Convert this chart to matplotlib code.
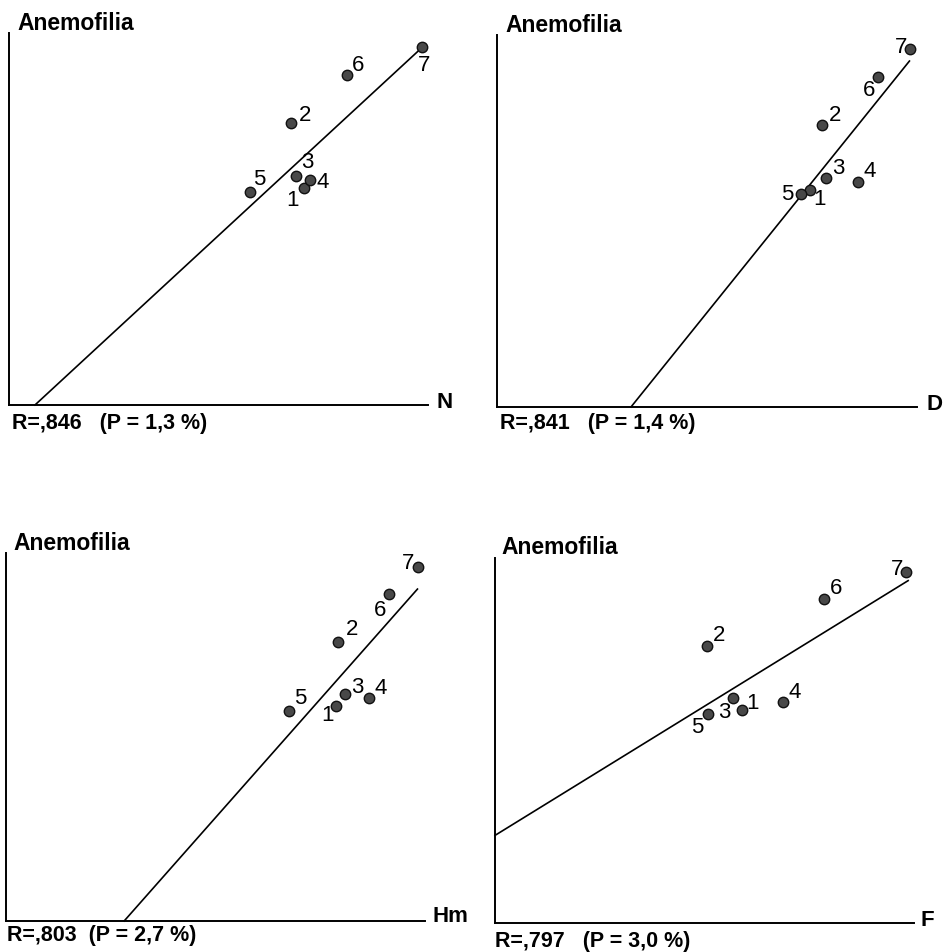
import numpy as np
import matplotlib
matplotlib.use('Agg')
import matplotlib.pyplot as plt

# site numbers and Anemofilia values (same y variable in all four plots, 0-100 scale)
sites = ['1', '2', '3', '4', '5', '6', '7']
anemofilia = [58.4, 75.9, 61.6, 60.5, 57.2, 88.8, 96.2]

# x variables, 0-100 scale
x_N = [70.4, 67.3, 68.5, 71.8, 57.5, 80.6, 98.5]
x_D = [74.5, 77.4, 78.3, 86.0, 72.4, 90.7, 98.4]
x_Hm = [78.8, 79.3, 80.9, 86.7, 67.6, 91.3, 98.4]
x_F = [59.0, 50.7, 56.9, 68.8, 50.9, 78.5, 98.2]

# regression lines (end points)
line_N = ([6.2, 97.9], [0.0, 95.4])
line_D = ([31.9, 98.2], [0.0, 93.0])
line_Hm = ([28.2, 98.2], [0.0, 90.2])
line_F = ([0.0, 98.6], [24.0, 93.8])

r_texts = ['R=,846   (P = 1,3 %)', 'R=,841   (P = 1,4 %)',
           'R=,803  (P = 2,7 %)', 'R=,797   (P = 3,0 %)']
x_names = ['N', 'D', 'Hm', 'F']

W, H = 944, 952
font = 'Liberation Sans'

fig = plt.figure(figsize=(W / 100, H / 100), dpi=100)

def fx(x):
    return x / W

def fy(y):
    return 1 - y / H

# panel frames in pixels: left, right, bottom, top
frames = [(9, 428, 405, 33), (497, 917, 407, 35),
          (6, 425, 921, 553), (495, 914, 923, 558)]
title_pos = [(17, 23), (505, 26), (13, 544), (501, 548)]
name_pos = [(437, 403), (926, 404), (432, 917), (920, 920)]
r_pos = [(12, 423), (500, 423), (7, 936), (495, 941)]

label_off = [
    [(-11, -13), (14, 7), (11, 13), (13, -3), (9, 13), (11, 9), (2, -18)],
    [(10, -10), (13, 9), (12, 9), (11, 10), (-14, 0), (-9, -14), (-9, 2)],
    [(-9, -9), (14, 12), (12, 7), (11, 10), (11, 12), (-8, -16), (-10, 3)],
    [(10, 6), (12, 10), (-9, -14), (11, 10), (-11, -13), (12, 10), (-9, 2)],
]

xs = [x_N, x_D, x_Hm, x_F]
lines = [line_N, line_D, line_Hm, line_F]

for i in range(4):
    l, r, b, t = frames[i]
    ax = fig.add_axes([fx(l), fy(b), (r - l) / W, (b - t) / H])
    ax.set_xlim(0, 100)
    ax.set_ylim(0, 100)
    for s in ['top', 'right']:
        ax.spines[s].set_visible(False)
    ax.spines['left'].set_linewidth(1.4)
    ax.spines['bottom'].set_linewidth(1.4)
    ax.set_xticks([])
    ax.set_yticks([])
    ax.patch.set_visible(False)

    ax.plot(lines[i][0], lines[i][1], color='black', lw=1.2, clip_on=False)
    ax.plot(xs[i], anemofilia, 'o', ms=7.5, mfc='#484848', mec='#111111',
            mew=1.0, clip_on=False)
    for j in range(len(sites)):
        ax.annotate(sites[j], (xs[i][j], anemofilia[j]),
                    xytext=label_off[i][j], textcoords='offset pixels',
                    ha='center', va='center', fontsize=16, family=font)

    fig.text(fx(title_pos[i][0]), fy(title_pos[i][1]), 'Anemofilia',
             ha='left', va='center', fontsize=16.5, fontweight='bold', family=font)
    fig.text(fx(name_pos[i][0]), fy(name_pos[i][1]), x_names[i],
             ha='left', va='center', fontsize=16, fontweight='bold', family=font)
    fig.text(fx(r_pos[i][0]), fy(r_pos[i][1]), r_texts[i],
             ha='left', va='center', fontsize=15.5, fontweight='bold', family=font)

plt.savefig('out.png', dpi=100)
plt.close()
